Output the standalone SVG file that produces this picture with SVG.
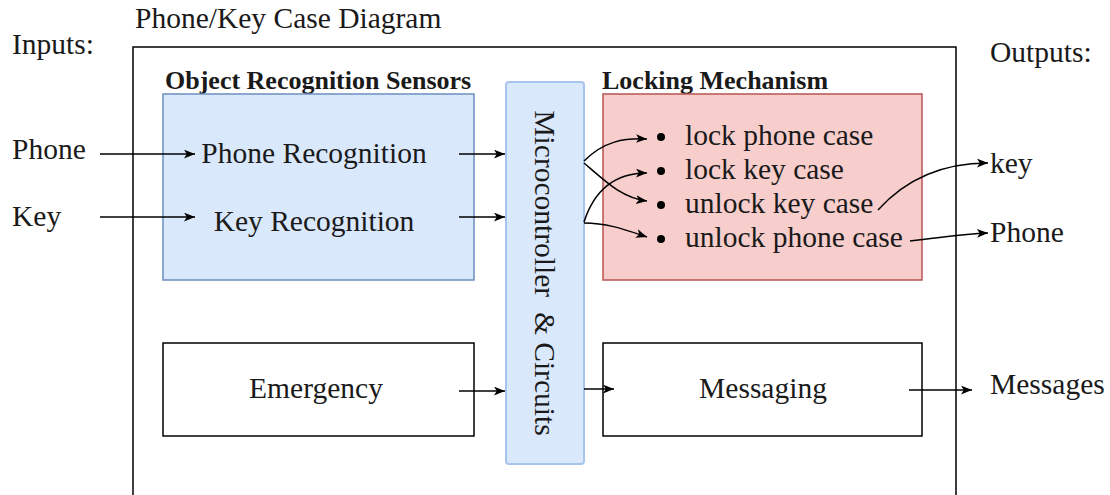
<svg xmlns="http://www.w3.org/2000/svg" width="1110" height="495" viewBox="0 0 1110 495">
<style>
text{font-family:"Liberation Serif","Times New Roman",serif;fill:#1a1a1a;font-size:29.5px}
.b{font-weight:bold;font-size:26px}
.c{fill:none;stroke:#000;stroke-width:1.5;marker-end:url(#ah)}
.box{fill:#fff;stroke:#000;stroke-width:1.5}
</style>
<defs>
<marker id="ah" viewBox="0 0 10 8" refX="10" refY="4" markerWidth="11" markerHeight="9" markerUnits="userSpaceOnUse" orient="auto">
<path d="M0,0 L10,4 L0,8 L2.5,4 Z" fill="#000"/>
</marker>
</defs>
<rect width="1110" height="495" fill="#fff"/>
<g id="labels">
<text x="135" y="28">Phone/Key Case Diagram</text>
<text x="12" y="54">Inputs:</text>
<text x="990" y="62">Outputs:</text>
<text x="12" y="159">Phone</text>
<text x="12" y="226">Key</text>
<text x="990" y="173">key</text>
<text x="990" y="242">Phone</text>
<text x="990" y="394">Messages</text>
</g>
<g id="frame"><path d="M133,500 V47 H956 V500" fill="none" stroke="#000" stroke-width="1.5"/></g>
<g id="sensors">
<text class="b" x="165" y="89">Object Recognition Sensors</text>
<rect x="163" y="94" width="311" height="186" fill="#dae8fc" stroke="#6c8ebf" stroke-width="1.5"/>
<text x="314" y="163" text-anchor="middle">Phone Recognition</text>
<text x="314" y="231" text-anchor="middle">Key Recognition</text>
</g>
<g id="micro">
<rect x="506" y="82" width="78" height="382" rx="3" fill="#dae8fc" stroke="#a9c4eb" stroke-width="2"/>
<text transform="translate(545,273) rotate(90)" text-anchor="middle" dominant-baseline="central" xml:space="preserve">Microcontroller  &amp; Circuits</text>
</g>
<g id="locking">
<text class="b" x="602" y="89">Locking Mechanism</text>
<rect x="603" y="94" width="319" height="186" fill="#f8cecc" stroke="#b85450" stroke-width="1.5"/>
<g fill="#000"><circle cx="661" cy="137" r="4"/><circle cx="661" cy="171" r="4"/><circle cx="661" cy="205" r="4"/><circle cx="661" cy="239" r="4"/></g>
<text x="685" y="145">lock phone case</text>
<text x="685" y="179">lock key case</text>
<text x="685" y="213">unlock key case</text>
<text x="685" y="247">unlock phone case</text>
</g>
<g id="emergency">
<rect class="box" x="163" y="343" width="311" height="93"/>
<text x="316" y="398" text-anchor="middle">Emergency</text>
</g>
<g id="messaging">
<rect class="box" x="603" y="343" width="319" height="93"/>
<text x="763" y="398" text-anchor="middle">Messaging</text>
</g>
<g id="connectors">
<path class="c" d="M100,154 H195"/>
<path class="c" d="M100,217 H195"/>
<path class="c" d="M459,154 H505"/>
<path class="c" d="M459,217 H505"/>
<path class="c" d="M459,391 H505"/>
<path class="c" d="M584,389 H614"/>
<path class="c" d="M909,390 H972"/>
<path class="c" d="M584,161 C604,141 624,138 647,139"/>
<path class="c" d="M584,163 C606,182 622,198 647,201"/>
<path class="c" d="M584,222 C594,191 614,173 647,173"/>
<path class="c" d="M584,223 C608,223 626,230 647,237"/>
<path class="c" d="M878,210 C905,180 940,163 988,163"/>
<path class="c" d="M910,241 C940,238 960,234 988,233"/>
</g>
</svg>
